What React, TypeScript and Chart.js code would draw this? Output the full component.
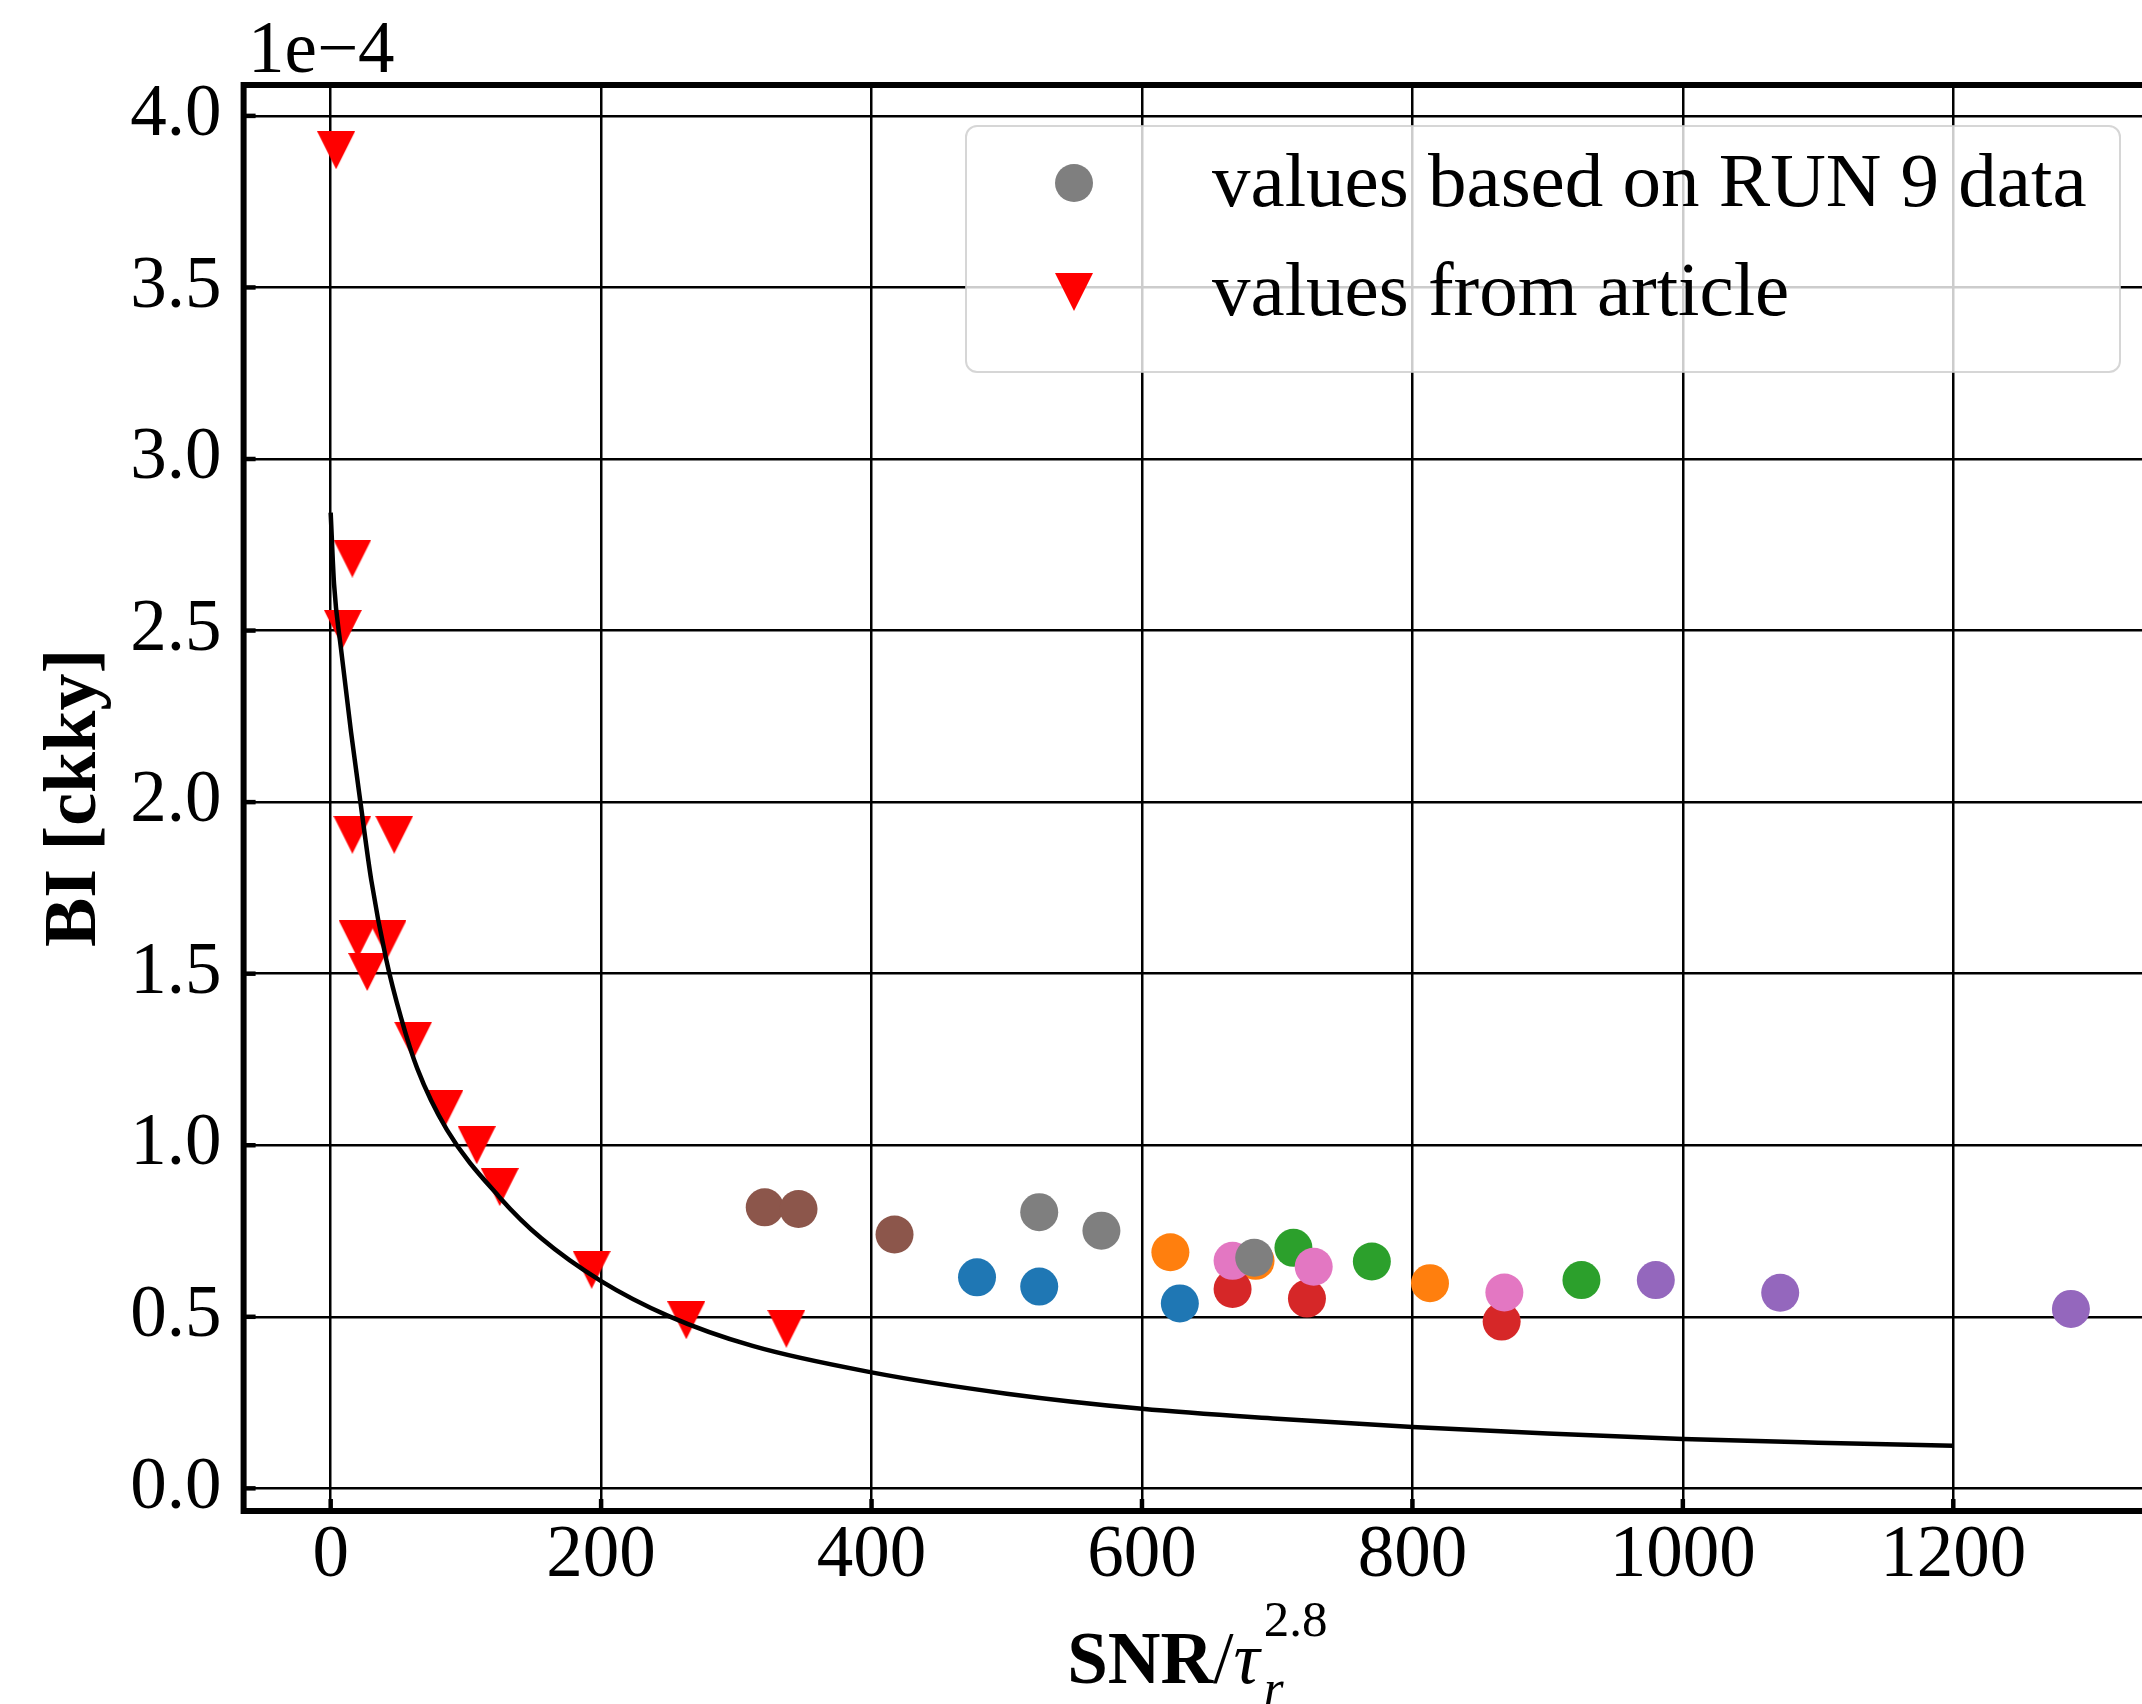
import React, { useEffect, useRef } from 'react';
import { Chart, registerables } from 'chart.js';

Chart.register(...registerables);

// ---- axes ----
const xTicks = [0, 200, 400, 600, 800, 1000, 1200];
const yTicks = [0, 0.5, 1.0, 1.5, 2.0, 2.5, 3.0, 3.5, 4.0];
const xMin = -64.4;
const xMax = 1351.4;
const yMin = -0.066;
const yMax = 4.09;
const yOffsetText = '1e\u22124';
const xTitleMain = 'SNR';
const xTitleSlash = '/';
const xTitleTau = '\u03c4';
const xTitleSub = 'r';
const xTitleSup = '2.8';
const yTitle = 'BI [ckky]';

// ---- RUN 9 data (values in units of 1e-4), tab10 colour groups ----
const blueX = [478, 524, 628];
const blueY = [0.615, 0.588, 0.539];
const orangeX = [621, 684, 813];
const orangeY = [0.688, 0.663, 0.598];
const greenX = [712, 770, 925];
const greenY = [0.701, 0.661, 0.607];
const redX = [667, 722, 866];
const redY = [0.581, 0.553, 0.486];
const purpleX = [980, 1072, 1287];
const purpleY = [0.607, 0.570, 0.523];
const brownX = [321, 346, 417];
const brownY = [0.819, 0.814, 0.740];
const pinkX = [667, 727, 868];
const pinkY = [0.663, 0.646, 0.571];
const grayX = [524, 570, 683];
const grayY = [0.805, 0.751, 0.672];

// ---- values from article ----
const articleX = [4, 16, 9, 16, 47, 20, 42, 27, 61, 84, 108, 125, 193, 263, 337];
const articleY = [3.90, 2.71, 2.505, 1.905, 1.905, 1.60, 1.60, 1.505, 1.305, 1.105, 1.0, 0.878, 0.637, 0.49, 0.465];

// ---- fitted curve ----
const curveX = [0, 2.5, 7.5, 15, 22, 30, 41, 52, 64, 86, 125, 156, 200, 250, 312, 400, 500, 600, 700, 800, 900, 1000, 1100, 1200];
const curveY = [2.844, 2.635, 2.451, 2.206, 2.0, 1.773, 1.543, 1.372, 1.224, 1.045, 0.848, 0.728, 0.604, 0.502, 0.415, 0.338, 0.276, 0.232, 0.203, 0.179, 0.160, 0.144, 0.133, 0.124];

const legendRun9 = 'values based on RUN 9 data';
const legendArticle = 'values from article';

const FONT = 'Liberation Serif';

const pts = (xs: number[], ys: number[]) => xs.map((x, i) => ({ x, y: ys[i] }));

export default function App() {
  const ref = useRef<HTMLCanvasElement>(null);

  useEffect(() => {
    const canvas = ref.current!;
    const S = 38;
    const tri = document.createElement('canvas');
    tri.width = S;
    tri.height = S;
    const tctx = tri.getContext('2d')!;
    tctx.fillStyle = '#ff0000';
    tctx.beginPath();
    tctx.moveTo(0, 0);
    tctx.lineTo(S, 0);
    tctx.lineTo(S / 2, S);
    tctx.closePath();
    tctx.fill();

    const R = 19;
    const circle = (label: string, color: string, xs: number[], ys: number[], order: number) => ({
      type: 'scatter' as const,
      label,
      data: pts(xs, ys),
      backgroundColor: color,
      borderColor: color,
      borderWidth: 0,
      pointRadius: R,
      pointStyle: 'circle',
      order,
    });

    const decor = {
      id: 'decor',
      afterDatasetsDraw(chart: any) {
        const { ctx, chartArea } = chart;
        const { left, right, top, bottom } = chartArea;
        const xs = chart.scales.x;
        const ys = chart.scales.y;
        ctx.save();
        ctx.strokeStyle = '#000';
        // inward tick stubs
        ctx.lineWidth = 4.5;
        ctx.lineCap = 'butt';
        for (const v of yTicks) {
          const py = ys.getPixelForValue(v);
          ctx.beginPath();
          ctx.moveTo(left, py);
          ctx.lineTo(left + 12, py);
          ctx.stroke();
        }
        for (const v of xTicks) {
          const px = xs.getPixelForValue(v);
          ctx.beginPath();
          ctx.moveTo(px, bottom);
          ctx.lineTo(px, bottom - 12);
          ctx.stroke();
        }
        // frame
        ctx.lineWidth = 6;
        ctx.lineCap = 'square';
        ctx.beginPath();
        ctx.rect(left, top, right - left, bottom - top);
        ctx.stroke();
        ctx.restore();
      },
      afterDraw(chart: any) {
        const { ctx, chartArea } = chart;
        const { left, right, top, bottom } = chartArea;
        ctx.save();
        ctx.fillStyle = '#000';

        // legend
        const bx = 966, by = 126, bw = 1154, bh = 246;
        ctx.beginPath();
        ctx.roundRect(bx, by, bw, bh, 11);
        ctx.fillStyle = 'rgba(255,255,255,0.8)';
        ctx.fill();
        ctx.strokeStyle = 'rgba(204,204,204,0.8)';
        ctx.lineWidth = 2;
        ctx.stroke();
        const mx = 1074;
        const row1 = 183, row2 = 292;
        const grayDs = chart.data.datasets.find((d: any) => d.label === legendRun9);
        ctx.fillStyle = grayDs ? grayDs.backgroundColor : '#7f7f7f';
        ctx.beginPath();
        ctx.arc(mx, row1, R, 0, Math.PI * 2);
        ctx.fill();
        ctx.drawImage(tri, mx - S / 2, row2 - S / 2, S, S);
        ctx.fillStyle = '#000';
        ctx.font = `77px "${FONT}"`;
        ctx.textAlign = 'left';
        ctx.textBaseline = 'middle';
        ctx.fillText(legendRun9, 1212, row1 + 3);
        ctx.fillText(legendArticle, 1212, row2 + 3);

        // offset text
        ctx.font = `73px "${FONT}"`;
        ctx.textBaseline = 'alphabetic';
        ctx.fillText(yOffsetText, 248, 72);

        // y title
        ctx.save();
        ctx.translate(76, (top + bottom) / 2);
        ctx.rotate(-Math.PI / 2);
        ctx.font = `bold 74px "${FONT}"`;
        ctx.textAlign = 'center';
        ctx.textBaseline = 'middle';
        ctx.fillText(yTitle, 0, 0);
        ctx.restore();

        // x title (mathtext-like)
        const fMain = `bold 73px "${FONT}"`;
        const fReg = `73px "${FONT}"`;
        const fIt = `italic 73px "${FONT}"`;
        const fSup = `51px "${FONT}"`;
        const fSub = `italic 51px "${FONT}"`;
        const meas = (t: string, f: string) => { ctx.font = f; return ctx.measureText(t).width; };
        const w1 = meas(xTitleMain, fMain);
        const w2 = meas(xTitleSlash, fReg);
        const w3 = meas(xTitleTau, fIt);
        const w4 = Math.max(meas(xTitleSup, fSup), meas(xTitleSub, fSub));
        const total = w1 + w2 + w3 + 3 + w4;
        let cx = (left + right) / 2 - total / 2 - 4;
        const base = 1683;
        ctx.textAlign = 'left';
        ctx.textBaseline = 'alphabetic';
        ctx.font = fMain; ctx.fillText(xTitleMain, cx, base); cx += w1;
        ctx.font = fReg; ctx.fillText(xTitleSlash, cx, base); cx += w2;
        ctx.font = fIt; ctx.fillText(xTitleTau, cx, base); cx += w3 + 4;
        ctx.font = fSup; ctx.fillText(xTitleSup, cx, base - 47);
        ctx.font = fSub; ctx.fillText(xTitleSub, cx, base + 22);
        ctx.restore();
      },
    };

    const chart = new Chart(canvas, {
      type: 'scatter',
      data: {
        datasets: [
          {
            type: 'line',
            label: '',
            data: pts(curveX, curveY),
            borderColor: '#000',
            borderWidth: 4.5,
            pointRadius: 0,
            fill: false,
            cubicInterpolationMode: 'monotone',
            order: 1,
          } as any,
          {
            type: 'scatter',
            label: legendArticle,
            data: pts(articleX, articleY),
            pointStyle: tri,
            pointRadius: S / 2,
            backgroundColor: '#ff0000',
            borderColor: '#ff0000',
            order: 2,
          } as any,
          circle('blue', '#1f77b4', blueX, blueY, 10),
          circle('orange', '#ff7f0e', orangeX, orangeY, 9),
          circle('green', '#2ca02c', greenX, greenY, 8),
          circle('red', '#d62728', redX, redY, 7),
          circle('purple', '#9467bd', purpleX, purpleY, 6),
          circle('brown', '#8c564b', brownX, brownY, 5),
          circle('pink', '#e377c2', pinkX, pinkY, 4),
          circle(legendRun9, '#7f7f7f', grayX, grayY, 3),
        ],
      },
      options: {
        animation: false,
        responsive: false,
        maintainAspectRatio: false,
        devicePixelRatio: 1,
        events: [],
        layout: { padding: { left: 0, top: 85, right: 42, bottom: 0 } },
        plugins: { legend: { display: false }, tooltip: { enabled: false }, title: { display: false } },
        scales: {
          x: {
            type: 'linear',
            position: 'bottom',
            min: xMin,
            max: xMax,
            afterBuildTicks: (s: any) => { s.ticks = xTicks.map((v) => ({ value: v })); },
            afterFit: (s: any) => { s.height = 193; },
            grid: { color: '#000', lineWidth: 2.5, drawTicks: false },
            border: { display: false },
            ticks: {
              font: { family: FONT, size: 73 },
              color: '#000',
              padding: 2,
              maxRotation: 0,
              autoSkip: false,
              callback: (v: any) => String(v),
            },
          },
          y: {
            type: 'linear',
            position: 'left',
            min: yMin,
            max: yMax,
            afterBuildTicks: (s: any) => { s.ticks = yTicks.map((v) => ({ value: v })); },
            afterFit: (s: any) => { s.width = 243.6; },
            grid: { color: '#000', lineWidth: 2.5, drawTicks: false },
            border: { display: false },
            ticks: {
              font: { family: FONT, size: 73 },
              color: '#000',
              padding: 22,
              autoSkip: false,
              callback: (v: any) => Number(v).toFixed(1),
            },
          },
        },
      },
      plugins: [decor],
    } as any);

    return () => chart.destroy();
  }, []);

  return (
    <div style={{ position: 'absolute', left: 0, top: 0, width: 2142, height: 1704, overflow: 'hidden', background: '#fff' }}>
      <canvas ref={ref} width={2200} height={1704} style={{ display: 'block', width: 2200, height: 1704 }} />
    </div>
  );
}
